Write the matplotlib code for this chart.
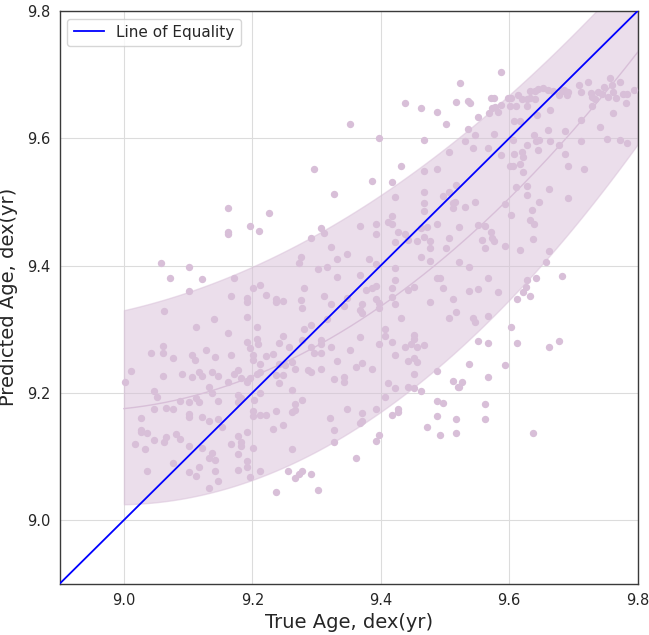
import matplotlib
matplotlib.use("Agg")
import matplotlib.pyplot as plt
import numpy as np

# scatter values (true age, predicted age; dex(yr))
true_age = [
    9.162, 9.226, 9.197, 9.211, 9.162, 9.162, 9.057, 9.102, 9.072, 9.122,
    9.171, 9.102, 9.201, 9.212, 9.167, 9.192, 9.192, 9.222, 9.237, 9.237,
    9.247, 9.062, 9.141, 9.112, 9.192, 9.207, 9.162, 9.207, 9.247,
    9.061, 9.061, 9.042, 9.077, 9.106, 9.111, 9.127, 9.142, 9.167, 9.192,
    9.196, 9.201, 9.201, 9.209, 9.212, 9.222, 9.232, 9.242, 9.242, 9.011,
    9.002, 9.061, 9.091, 9.106, 9.117, 9.122, 9.137, 9.146, 9.162, 9.171,
    9.177, 9.182, 9.192, 9.197, 9.207, 9.212, 9.237, 9.242, 9.247, 9.132,
    9.137, 9.047, 9.052, 9.087, 9.102, 9.112, 9.117, 9.147, 9.177, 9.182,
    9.177, 9.202, 9.212, 9.047, 9.066, 9.077, 9.026, 9.102, 9.102, 9.122,
    9.132, 9.147, 9.152, 9.201, 9.201, 9.212, 9.222, 9.237, 9.247, 9.232,
    9.026, 9.026, 9.036, 9.081, 9.087, 9.066, 9.062, 9.047, 9.017, 9.032,
    9.102, 9.122, 9.177, 9.182, 9.167, 9.177, 9.182, 9.192, 9.201, 9.137,
    9.132, 9.142, 9.077, 9.036, 9.102, 9.112, 9.117, 9.142, 9.147, 9.132,
    9.177, 9.192, 9.192, 9.197, 9.212, 9.237, 9.255,
    9.352, 9.397, 9.437, 9.462, 9.487, 9.502, 9.517, 9.523, 9.467, 9.296,
    9.327, 9.387, 9.417, 9.432, 9.467, 9.487, 9.507, 9.422, 9.467, 9.467,
    9.497, 9.507, 9.517, 9.512,
    9.307, 9.312, 9.291, 9.368, 9.392, 9.392, 9.412, 9.417, 9.417, 9.427,
    9.437, 9.442, 9.422, 9.467, 9.462, 9.472, 9.467, 9.457, 9.477, 9.477,
    9.487, 9.502, 9.507, 9.512, 9.462, 9.477, 9.322, 9.347, 9.332, 9.276,
    9.272, 9.302, 9.317, 9.382, 9.392, 9.422, 9.367, 9.332, 9.281, 9.377,
    9.387, 9.392, 9.417, 9.422, 9.442, 9.452, 9.487, 9.492, 9.497, 9.312,
    9.276, 9.277, 9.322, 9.342, 9.347, 9.371, 9.392, 9.397, 9.397, 9.417,
    9.422, 9.477, 9.512, 9.517, 9.507, 9.317, 9.367, 9.371, 9.432, 9.281,
    9.291, 9.407, 9.277, 9.292, 9.307, 9.307, 9.322, 9.257, 9.367, 9.407,
    9.417, 9.452, 9.452, 9.447, 9.457, 9.467, 9.437, 9.352, 9.397,
    9.296, 9.307, 9.262, 9.266, 9.251, 9.287, 9.292, 9.307, 9.332, 9.362,
    9.371, 9.387, 9.422, 9.442, 9.452, 9.457, 9.262, 9.277, 9.266, 9.262,
    9.266, 9.327, 9.342, 9.342, 9.411, 9.422, 9.443, 9.452, 9.462, 9.452,
    9.488, 9.407, 9.347, 9.392, 9.371, 9.371, 9.367, 9.321, 9.327, 9.327,
    9.262, 9.417, 9.427, 9.427, 9.397, 9.392, 9.362, 9.487, 9.497, 9.487,
    9.472, 9.492, 9.512, 9.517, 9.517, 9.521, 9.272, 9.277, 9.266, 9.292,
    9.302,
    9.587, 9.536, 9.539, 9.552, 9.568, 9.573, 9.578, 9.582, 9.572, 9.577,
    9.587, 9.598, 9.603, 9.613, 9.620, 9.627, 9.633, 9.640, 9.640, 9.633,
    9.645, 9.653, 9.660, 9.669, 9.677, 9.682, 9.686, 9.692, 9.690, 9.708,
    9.712, 9.722, 9.728, 9.729, 9.733, 9.738, 9.744, 9.747, 9.754, 9.757,
    9.760, 9.762, 9.767, 9.773, 9.778, 9.783, 9.794, 9.782, 9.762, 9.729,
    9.601, 9.611, 9.627, 9.663, 9.643, 9.608, 9.617, 9.712, 9.742, 9.661,
    9.687, 9.577, 9.536, 9.547, 9.531, 9.543, 9.567, 9.587, 9.606, 9.627,
    9.638, 9.642, 9.647, 9.645, 9.663, 9.678, 9.687, 9.712, 9.752, 9.772,
    9.783, 9.608, 9.620, 9.622, 9.601, 9.606, 9.617, 9.622, 9.692, 9.717,
    9.611, 9.627, 9.662, 9.627, 9.647, 9.692, 9.593, 9.531, 9.547, 9.516,
    9.636,
    9.603, 9.633, 9.638, 9.552, 9.562, 9.522, 9.572, 9.573, 9.577, 9.557,
    9.562, 9.593, 9.637, 9.617, 9.662, 9.657, 9.522, 9.537, 9.567, 9.627,
    9.642, 9.626, 9.622, 9.632, 9.612, 9.682, 9.537, 9.552, 9.582, 9.543,
    9.547, 9.567, 9.603, 9.552, 9.567, 9.612, 9.662, 9.677,
    9.538, 9.593, 9.567, 9.527, 9.522, 9.562, 9.562, 9.637,
]
pred_age = [
    9.491, 9.483, 9.462, 9.454, 9.452, 9.449, 9.404, 9.398, 9.381, 9.379,
    9.381, 9.360, 9.365, 9.369, 9.352, 9.349, 9.342, 9.354, 9.348, 9.343,
    9.344, 9.329, 9.316, 9.304, 9.319, 9.303, 9.294, 9.284, 9.289,
    9.273, 9.263, 9.263, 9.255, 9.259, 9.252, 9.268, 9.257, 9.259, 9.280,
    9.270, 9.259, 9.251, 9.277, 9.245, 9.258, 9.261, 9.278, 9.246, 9.235,
    9.217, 9.226, 9.229, 9.224, 9.233, 9.226, 9.233, 9.226, 9.217, 9.229,
    9.236, 9.223, 9.217, 9.223, 9.230, 9.233, 9.228, 9.216, 9.228, 9.209,
    9.199, 9.202, 9.194, 9.187, 9.186, 9.191, 9.186, 9.187, 9.196, 9.191,
    9.186, 9.189, 9.199, 9.174, 9.176, 9.174, 9.161, 9.167, 9.162, 9.162,
    9.156, 9.158, 9.146, 9.172, 9.163, 9.165, 9.165, 9.171, 9.149, 9.143,
    9.142, 9.139, 9.137, 9.135, 9.127, 9.130, 9.123, 9.126, 9.119, 9.112,
    9.116, 9.113, 9.132, 9.123, 9.119, 9.104, 9.116, 9.139, 9.113, 9.105,
    9.098, 9.094, 9.090, 9.077, 9.075, 9.069, 9.083, 9.077, 9.062, 9.050,
    9.079, 9.092, 9.083, 9.068, 9.077, 9.044, 9.077,
    9.623, 9.601, 9.655, 9.648, 9.641, 9.622, 9.657, 9.687, 9.598, 9.552,
    9.513, 9.533, 9.531, 9.556, 9.549, 9.552, 9.579, 9.508, 9.516, 9.498,
    9.509, 9.516, 9.527, 9.499,
    9.459, 9.451, 9.443, 9.462, 9.466, 9.449, 9.468, 9.466, 9.478, 9.453,
    9.449, 9.440, 9.437, 9.485, 9.459, 9.460, 9.445, 9.438, 9.439, 9.427,
    9.465, 9.427, 9.443, 9.490, 9.413, 9.407, 9.429, 9.418, 9.411, 9.413,
    9.404, 9.395, 9.397, 9.411, 9.402, 9.396, 9.385, 9.382, 9.364, 9.362,
    9.364, 9.368, 9.364, 9.378, 9.362, 9.366, 9.381, 9.380, 9.364, 9.352,
    9.346, 9.334, 9.339, 9.336, 9.349, 9.339, 9.347, 9.341, 9.334, 9.351,
    9.340, 9.343, 9.347, 9.327, 9.317, 9.316, 9.330, 9.325, 9.317, 9.301,
    9.306, 9.301, 9.283, 9.272, 9.283, 9.276, 9.272, 9.272, 9.287, 9.289,
    9.280, 9.291, 9.284, 9.276, 9.272, 9.275, 9.272, 9.267, 9.276,
    9.262, 9.263, 9.249, 9.238, 9.244, 9.236, 9.233, 9.238, 9.250, 9.241,
    9.247, 9.237, 9.260, 9.250, 9.254, 9.249, 9.204, 9.189, 9.183, 9.170,
    9.173, 9.222, 9.225, 9.217, 9.215, 9.208, 9.209, 9.208, 9.203, 9.229,
    9.235, 9.193, 9.174, 9.174, 9.168, 9.156, 9.153, 9.161, 9.141, 9.123,
    9.111, 9.165, 9.175, 9.169, 9.133, 9.124, 9.098, 9.187, 9.184, 9.163,
    9.146, 9.134, 9.218, 9.159, 9.136, 9.209, 9.073, 9.077, 9.066, 9.072,
    9.047,
    9.704, 9.659, 9.655, 9.634, 9.640, 9.647, 9.649, 9.641, 9.663, 9.664,
    9.653, 9.663, 9.664, 9.668, 9.661, 9.661, 9.664, 9.661, 9.674, 9.674,
    9.678, 9.679, 9.676, 9.675, 9.668, 9.674, 9.676, 9.673, 9.668, 9.683,
    9.673, 9.689, 9.671, 9.665, 9.661, 9.673, 9.670, 9.681, 9.665, 9.694,
    9.683, 9.673, 9.663, 9.688, 9.670, 9.670, 9.676, 9.656, 9.640, 9.651,
    9.651, 9.651, 9.651, 9.644, 9.637, 9.627, 9.627, 9.628, 9.617, 9.613,
    9.611, 9.606, 9.614, 9.605, 9.596, 9.584, 9.584, 9.573, 9.597, 9.590,
    9.605, 9.595, 9.598, 9.582, 9.595, 9.590, 9.576, 9.595, 9.599, 9.598,
    9.593, 9.576, 9.579, 9.571, 9.556, 9.556, 9.559, 9.547, 9.556, 9.552,
    9.524, 9.525, 9.521, 9.511, 9.500, 9.506, 9.496, 9.492, 9.500, 9.500,
    9.487,
    9.479, 9.471, 9.465, 9.464, 9.462, 9.461, 9.453, 9.444, 9.439, 9.440,
    9.427, 9.431, 9.441, 9.425, 9.423, 9.406, 9.406, 9.397, 9.380, 9.377,
    9.381, 9.367, 9.359, 9.352, 9.348, 9.384, 9.360, 9.363, 9.359, 9.317,
    9.311, 9.320, 9.303, 9.281, 9.279, 9.279, 9.272, 9.282,
    9.245, 9.243, 9.224, 9.217, 9.209, 9.183, 9.158, 9.136,
]

# trend curve and band edges
band_x = [9.0, 9.1, 9.2, 9.3, 9.4, 9.5, 9.6, 9.7, 9.8]
band_mid = [9.175, 9.193, 9.226, 9.273, 9.336, 9.413, 9.506, 9.613, 9.735]
band_upper = [9.330, 9.358, 9.398, 9.449, 9.511, 9.584, 9.668, 9.763, 9.870]
band_lower = [9.025, 9.035, 9.063, 9.108, 9.170, 9.249, 9.346, 9.460, 9.590]

ticks = [9.0, 9.2, 9.4, 9.6, 9.8]
TEXT = "#262626"
POINT = "thistle"

fig = plt.figure(figsize=(6.49, 6.35), dpi=100)
ax = fig.add_axes([0.0921, 0.0809, 0.8903, 0.9017])

# smooth the sampled curves with a quadratic through the read values
xs = np.linspace(band_x[0], band_x[-1], 200)
smooth = {name: np.polyval(np.polyfit(band_x, vals, 2), xs)
          for name, vals in [("mid", band_mid), ("up", band_upper), ("lo", band_lower)]}

ax.fill_between(xs, smooth["lo"], smooth["up"], color=POINT, alpha=0.5, linewidth=1, zorder=1)
ax.plot(xs, smooth["mid"], color=POINT, lw=1, zorder=2)
ax.scatter(true_age, pred_age, s=28, color=POINT, linewidths=0, zorder=3)
ax.plot([8.9, 9.8], [8.9, 9.8], color="blue", lw=1.3, label="Line of Equality", zorder=4)

ax.set_xlim(8.9, 9.8)
ax.set_ylim(8.9, 9.8)
ax.set_xticks(ticks)
ax.set_yticks(ticks)
ax.tick_params(length=0, pad=7, labelsize=10.5, labelcolor=TEXT)
ax.grid(color="#dcdcdc", lw=0.8)
ax.set_axisbelow(True)
for sp in ax.spines.values():
    sp.set_color("#3a3a3a")
    sp.set_linewidth(1.0)

ax.set_xlabel("True Age, dex(yr)", fontsize=14, color=TEXT, labelpad=3)
ax.set_ylabel("Predicted Age, dex(yr)", fontsize=14, color=TEXT, labelpad=6)
leg = ax.legend(loc="upper left", fontsize=11, frameon=True, fancybox=True)
leg.get_frame().set_edgecolor("#cccccc")
for t in leg.get_texts():
    t.set_color(TEXT)

fig.savefig("out.png", dpi=100)
